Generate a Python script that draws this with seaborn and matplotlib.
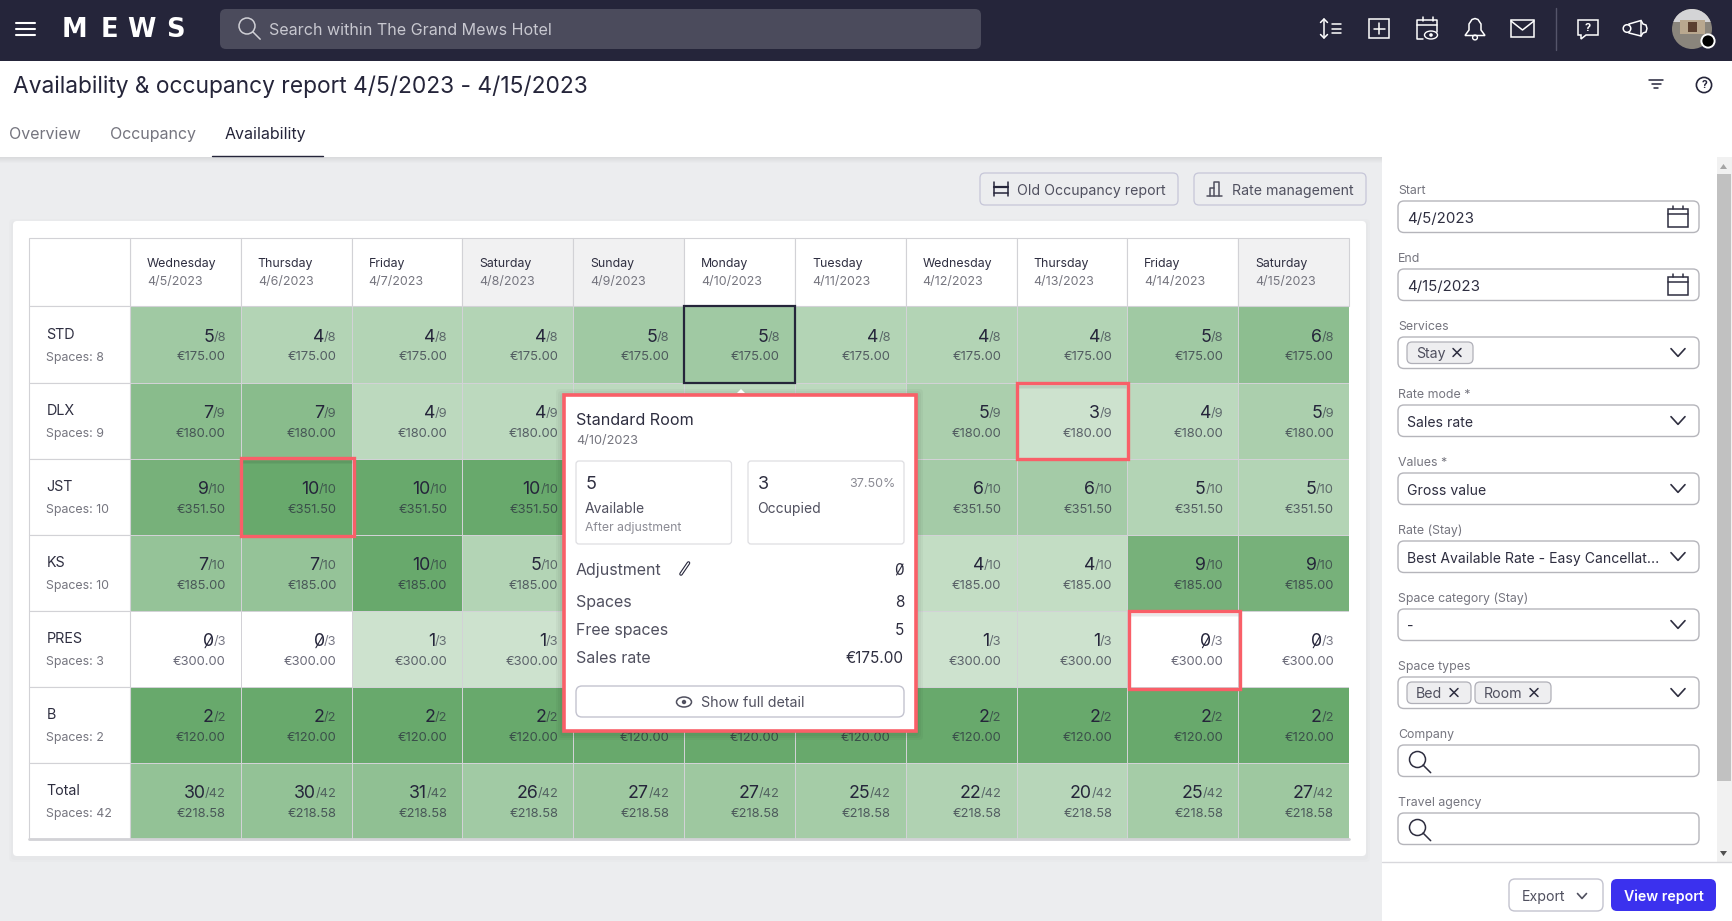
#!/usr/bin/env python3
import matplotlib
matplotlib.use("Agg")
import matplotlib.pyplot as plt
from matplotlib.colors import LinearSegmentedColormap
from matplotlib.patches import Circle, Ellipse, FancyBboxPatch, Polygon, Rectangle
import numpy as np
import seaborn as sns

W, H = 1732, 921

days = ["Wednesday", "Thursday", "Friday", "Saturday", "Sunday", "Monday",
        "Tuesday", "Wednesday", "Thursday", "Friday", "Saturday"]
dates = ["4/5/2023", "4/6/2023", "4/7/2023", "4/8/2023", "4/9/2023", "4/10/2023",
         "4/11/2023", "4/12/2023", "4/13/2023", "4/14/2023", "4/15/2023"]
weekend = [3, 4, 10]
rooms = ["STD", "DLX", "JST", "KS", "PRES", "B", "Total"]
spaces = [8, 9, 10, 10, 3, 2, 42]
rates = ["175.00", "180.00", "351.50", "185.00", "300.00", "120.00", "218.58"]
# Sunday-Tuesday of the middle rows sit under the popup, estimated from the totals
std_occ = [5, 4, 4, 4, 5, 5, 4, 4, 4, 5, 6]
dlx_occ = [7, 7, 4, 4, 4, 4, 4, 5, 3, 4, 5]
jst_occ = [9, 10, 10, 10, 9, 9, 8, 6, 6, 5, 5]
ks_occ = [7, 7, 10, 5, 6, 6, 6, 4, 4, 9, 9]
pres_occ = [0, 0, 1, 1, 1, 1, 1, 1, 1, 0, 0]
b_occ = [2, 2, 2, 2, 2, 2, 2, 2, 2, 2, 2]
total_occ = [30, 30, 31, 26, 27, 27, 25, 22, 20, 25, 27]

field_labels = ["Start", "End", "Services", "Rate mode *", "Values *", "Rate (Stay)",
                "Space category (Stay)", "Space types", "Company", "Travel agency"]
field_values = ["4/5/2023", "4/15/2023", "", "Sales rate", "Gross value",
                "Best Available Rate - Easy Cancellat...", "-", "", "", ""]
field_icons = ["cal", "cal", "chev", "chev", "chev", "chev", "chev", "chev", "search", "search"]

DARK = "#25253a"
TEXT = "#2e2e40"
GREY = "#75757f"
LINE = "#d2d2d6"
RED = "#f95f68"
PAGE = "#ecedef"
SOFT = "#50505f"

sns.set_theme(style="white")
plt.rcParams["font.family"] = ["Inter", "DejaVu Sans"]

fig = plt.figure(figsize=(W / 100, H / 100), dpi=100, facecolor=PAGE)


def full_axes(z):
    a = fig.add_axes([0, 0, 1, 1], zorder=z)
    a.set_xlim(0, W)
    a.set_ylim(H, 0)
    a.axis("off")
    return a


bg = full_axes(0)
fg = full_axes(2)


def txt(x, y, s, size=10, color=TEXT, ha="left", weight="normal", z=3, family=None):
    # va=center sits a little high for this font
    kw = {"family": family} if family else {}
    fg.text(x, y + 1.2, s, fontsize=size, color=color, ha=ha, va="center", fontweight=weight, zorder=z, **kw)


def rbox(x0, y0, x1, y1, fc="white", ec="none", lw=1.0, r=5, a=None, z=2):
    p = FancyBboxPatch((x0 + r, y0 + r), x1 - x0 - 2 * r, y1 - y0 - 2 * r,
                       boxstyle=f"round,pad={r},rounding_size={r}", fc=fc, ec=ec, lw=lw, zorder=z)
    (a or fg).add_patch(p)


def line(xs, ys, color=TEXT, lw=1.1, z=3):
    fg.plot(xs, ys, color=color, lw=lw, zorder=z, solid_capstyle="round", solid_joinstyle="round")


def chevron(x, y, size=7, color=TEXT, lw=1.2):
    line([x - size, x, x + size], [y - size * 0.55, y + size * 0.55, y - size * 0.55], color, lw)


def magnifier(x, y, r=8, color=TEXT, lw=1.1):
    fg.add_patch(Circle((x, y), r, fc="none", ec=color, lw=lw, zorder=3))
    line([x + r * 0.7, x + r * 1.65], [y + r * 0.7, y + r * 1.65], color, lw)


def calendar(x, y):
    fg.add_patch(Rectangle((x - 10, y - 9), 20, 18, fc="none", ec=TEXT, lw=1.1, zorder=3))
    line([x - 10, x + 10], [y - 4, y - 4])
    line([x - 5, x - 5], [y - 12, y - 9])
    line([x + 5, x + 5], [y - 12, y - 9])


def cross(x, y, s=4, color=TEXT):
    line([x - s, x + s], [y - s, y + s], color, 1.1)
    line([x - s, x + s], [y + s, y - s], color, 1.1)


def shadow(x0, y0, x1, y1, a, spread=8, alpha=0.035, z=1):
    for k in range(spread, 0, -2):
        rbox(x0 - k, y0 - k + 2, x1 + k, y1 + k + 2, fc=(0, 0, 0, alpha), r=4, a=a, z=z)


# page frame
bg.add_patch(Rectangle((0, 61), W, 96, fc="white", ec="none", zorder=2))
for k in range(6):
    bg.add_patch(Rectangle((0, 157), W, 6 - k, fc=(0, 0, 0, 0.012), ec="none", zorder=1))
bg.add_patch(Rectangle((1382, 157), 350, H - 157, fc="white", ec="none", zorder=1))
shadow(13, 221, 1366, 856, bg, spread=4, alpha=0.012)
rbox(13, 221, 1366, 856, r=4, a=bg)
rbox(980, 173, 1178, 205, fc=PAGE, ec="#c6c6d8", lw=0.9, a=bg)
rbox(1194, 173, 1366, 205, fc=PAGE, ec="#c6c6d8", lw=0.9, a=bg)

# occupancy heatmap, one axes placed exactly over the table body
occupied = np.array([std_occ, dlx_occ, jst_occ, ks_occ, pres_occ, b_occ, total_occ])
share = occupied / np.array(spaces)[:, None]
cmap = LinearSegmentedColormap.from_list("occ", ["#ffffff", "#68a96c"])
x0, x1, y0, y1 = 130, 1349, 306.5, 839
ax = fig.add_axes([x0 / W, 1 - y1 / H, (x1 - x0) / W, (y1 - y0) / H], zorder=1)
sns.heatmap(share, ax=ax, cmap=cmap, vmin=0, vmax=1, cbar=False, linewidths=0.7, linecolor=LINE,
            xticklabels=False, yticklabels=False)
ax.tick_params(length=0)

head_h = 68.8 / 76.1
side_w = 100.5 / 110.8
for j in range(len(days)):
    fc = "#f1f1f2" if j in weekend else "white"
    ax.add_patch(Rectangle((j, -head_h), 1, head_h, fc=fc, ec=LINE, lw=0.8, clip_on=False))
    ax.annotate(days[j], (j, 0), xytext=(17, 42.5), textcoords="offset pixels", fontsize=8.9,
                color=TEXT, va="center", annotation_clip=False)
    ax.annotate(dates[j], (j, 0), xytext=(17, 24.5), textcoords="offset pixels", fontsize=9,
                color=GREY, va="center", annotation_clip=False)
ax.add_patch(Rectangle((-side_w, -head_h), side_w, head_h, fc="white", ec=LINE, lw=0.8, clip_on=False))
for i in range(len(rooms)):
    ax.add_patch(Rectangle((-side_w, i), side_w, 1, fc="white", ec=LINE, lw=0.8, clip_on=False))
    ax.annotate(rooms[i], (-side_w, i), xytext=(17, -28.5), textcoords="offset pixels",
                fontsize=10.3, color=TEXT, va="center", annotation_clip=False)
    ax.annotate(f"Spaces: {spaces[i]}", (-side_w, i), xytext=(17, -51), textcoords="offset pixels",
                fontsize=8.9, color=GREY, va="center", annotation_clip=False)

renderer = fig.canvas.get_renderer()
for i in range(len(rooms)):
    for j in range(len(days)):
        covered = 1 <= i <= 5 and 4 <= j <= 6  # under the popup
        if not (covered and i < 5):
            ax.annotate(f"€{rates[i]}", (j + 1, i), xytext=(-15, -51), textcoords="offset pixels",
                        fontsize=9.3, color=DARK, alpha=0.68, ha="right", va="center")
        if covered:
            continue
        den = ax.annotate(f"/{spaces[i]}", (j + 1, i), xytext=(-15, -31), textcoords="offset pixels",
                          fontsize=9.3, color=DARK, alpha=0.62, ha="right", va="center")
        w = den.get_window_extent(renderer).width
        num = ax.annotate(str(occupied[i, j]), (j + 1, i), xytext=(-15 - w + 0.5, -31),
                          textcoords="offset pixels", fontsize=12.8, color=DARK, ha="right", va="center")
        if occupied[i, j] == 0:
            # the app font slashes its zeros
            bb = num.get_window_extent(renderer)
            cx, cy = (bb.x0 + bb.x1) / 2, H - (bb.y0 + bb.y1) / 2
            line([cx - 3.2, cx + 3.2], [cy + 6, cy - 5], DARK, 0.8, 1.5)
ax.add_patch(Rectangle((5, 0), 1, 1, fc="none", ec=DARK, lw=1.6, zorder=5, clip_on=False))
ax.plot([-side_w, 11], [7, 7], color=LINE, lw=2, clip_on=False)

# nav bar
fg.add_patch(Rectangle((0, 0), W, 61, fc=DARK, ec="none", zorder=1))
for y in (22.7, 29, 35.3):
    line([15.5, 34.5], [y, y], "white", 1.5)
for s, x in zip("MEWS", (74.5, 109, 141, 175)):
    txt(x, 28.5, s, 18.5, "white", "center", "bold", family="DejaVu Sans")
rbox(220, 9, 981, 49, fc="#4b4b5c", r=6)
magnifier(247, 26, 8, "#d0d0d6", 1.1)
txt(269, 29, "Search within The Grand Mews Hotel", 11.55, "#c8c8d0")
# nav icons
line([1324, 1324], [19, 38], "white", 1.1)
line([1320.5, 1324, 1327.5], [22.5, 19, 22.5], "white", 1.1)
line([1320.5, 1324, 1327.5], [34.5, 38, 34.5], "white", 1.1)
for y in (24.3, 29, 33.5):
    line([1332, 1341], [y, y], "white", 1.1)
fg.add_patch(Rectangle((1369, 19.5), 20, 19, fc="none", ec="white", lw=1.1, zorder=3))
line([1373.5, 1384.5], [29, 29], "white", 1.1)
line([1379, 1379], [23.5, 34.5], "white", 1.1)
line([1437, 1437, 1417, 1417, 1423], [32, 20.5, 20.5, 39, 39], "white", 1.1)
line([1417, 1437], [25.5, 25.5], "white", 1.1)
line([1423, 1423], [17, 21], "white", 1.1)
line([1433, 1433], [17, 21], "white", 1.1)
fg.add_patch(Ellipse((1431, 35), 13, 8, fc=DARK, ec="white", lw=1, zorder=4))
fg.add_patch(Circle((1431, 35), 1.8, fc="white", ec="none", zorder=5))
fg.add_patch(Polygon([[1465, 35.5], [1485, 35.5], [1481, 30], [1481, 24], [1478, 19.5], [1475, 18.5],
                      [1472, 19.5], [1469, 24], [1469, 30]], closed=True, fc="none", ec="white", lw=1.1, zorder=3))
fg.add_patch(Circle((1475, 37.5), 2.4, fc=DARK, ec="white", lw=1, zorder=2.5))
fg.add_patch(Rectangle((1511, 20.5), 23, 16.5, fc="none", ec="white", lw=1.1, zorder=3))
line([1511, 1522.5, 1534], [21, 30, 21], "white", 1.1)
line([1555.5, 1555.5], [8, 50], "#55556a", 1)
fg.add_patch(Polygon([[1578, 20], [1598, 20], [1598, 35], [1586, 35], [1581, 39], [1581, 35], [1578, 35]],
                     closed=True, fc="none", ec="white", lw=1.1, zorder=3))
txt(1588, 26.5, "?", 8, "white", "center", "bold")
fg.add_patch(Polygon([[1629, 24], [1641, 20.5], [1643, 24], [1646, 25], [1647, 28.5], [1646, 32],
                      [1643, 33], [1641, 36], [1629, 33]], closed=True, fc="none", ec="white", lw=1.1, zorder=3))
fg.add_patch(Circle((1627, 28.5), 3.8, fc=DARK, ec="white", lw=1.1, zorder=4))
line([1641, 1641], [21, 36], "white", 1.1)
avatar = Circle((1692, 29), 20, fc="#8a857c", ec="none", zorder=3)
fg.add_patch(avatar)
sky = Rectangle((1670, 8), 44, 14, fc="#d4d4d6", ec="none", zorder=4)
fg.add_patch(sky)
sky.set_clip_path(avatar)
house = Rectangle((1680, 20), 25, 14, fc="#b9a88f", ec="none", zorder=4)
fg.add_patch(house)
fg.add_patch(Rectangle((1688, 22), 9, 10, fc="#5b4030", ec="none", zorder=5))
fg.add_patch(Circle((1708, 41), 6.6, fc="black", ec="white", lw=1.4, zorder=6))

# title and tabs
txt(13, 86, "Availability & occupancy report 4/5/2023 - 4/15/2023", 16.4, DARK)
txt(9.5, 133, "Overview", 11.5, GREY)
txt(110, 133, "Occupancy", 11.5, GREY)
txt(224.5, 133, "Availability", 11.5, DARK)
line([212, 323], [156, 156], DARK, 1)
for y, xr in ((80, 7), (84.5, 4.5), (88.5, 2)):
    line([1656 - xr, 1656 + xr], [y, y], DARK, 1.1)
fg.add_patch(Circle((1704, 85), 7.6, fc="white", ec=DARK, lw=1.2, zorder=3))
txt(1704, 84, "?", 7.5, DARK, "center", "bold", z=4)

# buttons above the table
txt(1017, 190, "Old Occupancy report", 10.15, SOFT)
txt(1232, 190, "Rate management", 10.15, SOFT)
line([994, 994], [182, 196], DARK, 1.1)
line([1008, 1008], [182, 196], DARK, 1.1)
line([994, 1008], [187, 187], DARK, 1.6)
line([994, 1008], [193, 193], DARK, 1.1)
line([1207, 1222], [196, 196], SOFT, 1.1)
line([1210, 1210, 1214, 1214, 1219, 1219], [196, 188, 188, 182, 182, 196], SOFT, 1.1)
line([1214, 1214], [188, 196], SOFT, 1.1)

# highlighted cells
for (a0, b0, a1, b1) in ((241, 458, 354, 536), (1017, 383, 1127.5, 459), (1129, 611, 1240, 688.5)):
    for k in range(1, 4):
        line([a0 + 2, a1 - 2], [b0 + 2 + k, b0 + 2 + k], (0, 0, 0, 0.05), 1.2, 3)
    fg.add_patch(Rectangle((a0, b0), a1 - a0, b1 - b0, fc="none", ec=RED, lw=2.4, zorder=4))

# popup
shadow(562, 393, 917, 732, fg, spread=6, alpha=0.03, z=5)
fg.add_patch(Rectangle((563.5, 394.5), 352, 336, fc="white", ec=RED, lw=2.6, zorder=6))
fg.add_patch(Polygon([[737, 393], [741, 389], [745, 393]], closed=True, fc="white", ec="none", zorder=6))

txt(576, 419, "Standard Room", 11.6, TEXT, z=8)
txt(576, 439.5, "4/10/2023", 9.2, GREY, z=8)
rbox(576, 461, 731.5, 544, ec="#dedee2", lw=0.9, r=3, z=7)
rbox(748, 461, 904, 544, ec="#dedee2", lw=0.9, r=3, z=7)
txt(586, 483, "5", 13, z=8)
txt(585, 508, "Available", 10, SOFT, z=8)
txt(585, 527, "After adjustment", 8.8, "#8b8b94", z=8)
txt(758, 483, "3", 13, z=8)
txt(895.5, 483, "37.50%", 9, "#8b8b94", "right", z=8)
txt(757, 508, "Occupied", 10, SOFT, z=8)
pop_rows = [("Adjustment", "0", 569), ("Spaces", "8", 601), ("Free spaces", "5", 629),
            ("Sales rate", "€175.00", 657)]
for name, value, y in pop_rows:
    txt(576, y, name, 11.5, SOFT, z=8)
    txt(904, y, value, 11, TEXT, "right", z=8)
line([896.5, 903], [575, 564], TEXT, 0.8, 9)
line([681, 688.5], [574, 563], DARK, 2.6, 8)
line([681, 688.5], [574, 563], "white", 1.0, 9)
rbox(576, 686, 904, 717, ec="#c3c3cf", lw=1, r=6, z=7)
fg.add_patch(Ellipse((684, 702), 15, 10, fc="white", ec=SOFT, lw=1.1, zorder=8))
fg.add_patch(Circle((684, 702), 2.2, fc=SOFT, ec="none", zorder=9))
txt(701, 702, "Show full detail", 10.3, SOFT, z=8)

# sidebar
fg.add_patch(Rectangle((1717, 157), 15, 705, fc="#f1f1f1", ec="none", zorder=1))
fg.add_patch(Rectangle((1717, 174), 13.5, 607, fc="#c1c1c1", ec="none", zorder=2))
fg.add_patch(Polygon([[1720, 169], [1723.5, 164], [1727, 169]], closed=True, fc="#a5a5a5", ec="none", zorder=3))
fg.add_patch(Polygon([[1720, 851], [1723.5, 856], [1727, 851]], closed=True, fc="#505050", ec="none", zorder=3))
line([1382, 1732], [862, 862], "#d8d8dc", 1, 3)

for k, label in enumerate(field_labels):
    top = 201 + 68 * k
    txt(1398, top - 11, label, 8.9, GREY)
    rbox(1398, top, 1699, top + 31.5, ec="#b5b5bb", lw=1, r=6)
    if field_values[k]:
        size = 10.8 if k < 2 else 10.1
        txt(1407, top + 17, field_values[k], size, TEXT)
    if field_icons[k] == "cal":
        calendar(1678, top + 17)
    elif field_icons[k] == "chev":
        chevron(1678, top + 15.5)
    else:
        magnifier(1417.5, top + 14.5, 8, TEXT)

chips = [(1407, 1473, 342, "Stay", 1416, 1457), (1407, 1471, 682, "Bed", 1416, 1454),
         (1475, 1551, 682, "Room", 1484, 1534)]
for c0, c1, ctop, name, tx, xx in chips:
    rbox(c0, ctop, c1, ctop + 21.5, fc="#eeeef0", ec="#b0b0b8", lw=0.9, r=5)
    txt(tx, ctop + 11, name, 10.2, SOFT)
    cross(xx, ctop + 10.5)

rbox(1509, 879, 1603, 911, ec="#c3c3cf", lw=1, r=6)
txt(1522, 896, "Export", 10.2, SOFT)
chevron(1582, 896, 4.5, SOFT, 1.2)
rbox(1611, 879, 1716, 911, fc="#3b31ee", r=6)
txt(1663.5, 896, "View report", 10.2, "white", "center", "semibold")

fig.savefig("out.png", dpi=100, facecolor=fig.get_facecolor())
